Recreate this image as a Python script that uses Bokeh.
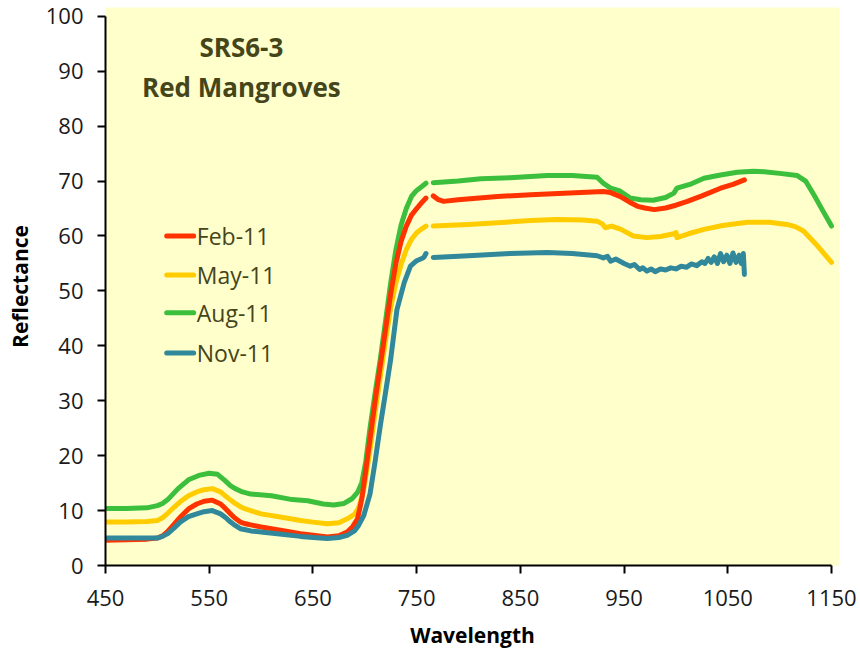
import numpy as np
from bokeh.plotting import figure
from bokeh.models import Range1d, Label, FixedTicker
from bokeh.embed import file_html
from bokeh.resources import INLINE

NaN = float("nan")

# ---- data ----
series_names = ["Feb-11", "May-11", "Aug-11", "Nov-11"]

feb_w = [450, 470, 490, 500, 505, 510, 516, 522, 530, 538, 545, 553, 561, 566, 570, 575, 580, 585, 590, 600, 620,
         638, 650, 664, 675, 683, 688, 693, 697, 700, 705, 710, 715, 720, 725, 730, 735, 740, 745, 750, 755, 759,
         NaN,
         766, 771, 776, 790, 828, 860, 892, 930, 937, 946, 955, 963, 970, 979, 990, 1000, 1011, 1025, 1043,
         1055, 1066]
feb_r = [4.6, 4.7, 4.8, 5.0, 5.4, 6.2, 7.5, 8.8, 10.3, 11.2, 11.7, 11.9, 11.2, 10.3, 9.5, 8.6, 7.9, 7.6, 7.4, 7.0,
         6.4, 5.8, 5.5, 5.2, 5.4, 6.1, 7.0, 8.5, 12.0, 16.0, 23.0, 30.0, 36.5, 43.0, 49.5, 55.0, 59.0, 61.8, 63.8,
         65.0, 66.1, 66.9, NaN,
         67.3, 66.6, 66.3, 66.6, 67.2, 67.5, 67.8, 68.1, 67.9, 67.2, 66.2, 65.4, 65.1, 64.8, 65.1, 65.6, 66.3,
         67.3, 68.7, 69.4, 70.2]

may_w = [450, 470, 490, 500, 505, 510, 516, 522, 530, 538, 545, 553, 561, 566, 570, 575, 580, 585, 590, 600, 620,
         638, 650, 664, 675, 683, 690, 694, 698, 700, 705, 710, 715, 720, 725, 730, 735, 740, 745, 750, 755, 759,
         NaN,
         766, 800, 828, 860, 885, 910, 924, 929, 932, 938, 947, 959, 972, 985, 998, 1000, 1001, 1012, 1027,
         1045, 1069, 1090, 1107, 1115, 1123, 1135, 1150]
may_r = [7.9, 7.9, 8.0, 8.2, 8.7, 9.5, 10.6, 11.6, 12.7, 13.4, 13.8, 14.0, 13.4, 12.6, 12.0, 11.3, 10.7, 10.3, 10.0,
         9.4, 8.8, 8.2, 7.9, 7.6, 7.8, 8.5, 9.3, 10.5, 13.0, 15.0, 21.0, 28.0, 34.5, 41.0, 47.0, 51.5, 54.8, 57.5,
         59.4, 60.6, 61.3, 61.8, NaN,
         61.8, 62.1, 62.4, 62.8, 63.0, 62.9, 62.7, 62.2, 61.5, 61.8, 61.2, 60.0, 59.7, 59.9, 60.4, 60.6, 59.7,
         60.4, 61.2, 61.9, 62.5, 62.5, 62.1, 61.7, 60.9, 58.5, 55.2]

aug_w = [450, 470, 490, 500, 505, 510, 515, 520, 530, 540, 550, 558, 565, 570, 575, 582, 590, 610, 630, 645, 660,
         670, 680, 688, 693, 697, 701, 705, 710, 715, 720, 725, 730, 735, 740, 745, 750, 755, 759, NaN,
         766, 790, 812, 840, 876, 900, 924, 930, 937, 946, 956, 966, 978, 990, 998, 1001, 1015, 1027, 1043,
         1059, 1075, 1085, 1100, 1117, 1125, 1133, 1141, 1150]
aug_r = [10.4, 10.4, 10.5, 10.9, 11.3, 12.0, 13.0, 14.0, 15.6, 16.4, 16.8, 16.6, 15.5, 14.6, 14.0, 13.4, 13.0, 12.7,
         12.0, 11.8, 11.2, 11.0, 11.3, 12.2, 13.3, 15.0, 19.0, 25.0, 31.5, 37.6, 44.5, 51.5, 57.5, 62.0, 65.0,
         67.2, 68.3, 69.0, 69.6, NaN,
         69.7, 70.0, 70.4, 70.6, 71.0, 71.0, 70.7, 69.6, 68.7, 68.2, 66.9, 66.6, 66.5, 67.0, 67.8, 68.7, 69.5,
         70.5, 71.1, 71.6, 71.8, 71.7, 71.4, 71.0, 70.0, 67.5, 64.8, 61.8]

nov_w = [450, 470, 490, 500, 505, 510, 516, 522, 530, 538, 545, 553, 561, 566, 570, 575, 580, 585, 590, 600, 620,
         638, 650, 664, 675, 683, 690, 694, 699, 705, 710, 715, 720, 725, 731, 738, 744, 750, 755, 757, 759, NaN,
         766, 800, 840, 876, 900, 924, 930, 934, 937, 942, 946, 950, 956, 960, 965, 968, 972, 976, 980, 985,
         990, 995, 1000, 1005, 1010, 1015, 1020, 1025, 1028, 1031, 1034, 1037, 1040, 1043, 1046, 1049, 1052,
         1055, 1058, 1061, 1063, 1065, 1066]
nov_r = [5.0, 5.0, 5.0, 5.0, 5.3, 5.8, 6.8, 7.9, 8.9, 9.4, 9.8, 10.0, 9.4, 8.7, 8.0, 7.3, 6.7, 6.5, 6.3, 6.1, 5.7,
         5.3, 5.1, 4.9, 5.1, 5.5, 6.3, 7.3, 9.1, 13.0, 19.0, 25.5, 31.5, 37.6, 46.6, 51.5, 54.5, 55.5, 55.9, 56.1,
         56.8, NaN,
         56.1, 56.4, 56.8, 57.0, 56.8, 56.4, 56.0, 56.3, 55.4, 55.8, 55.4, 55.0, 54.5, 54.8, 53.9, 54.2, 53.6,
         54.0, 53.5, 54.0, 53.8, 54.2, 54.0, 54.5, 54.3, 54.9, 54.6, 55.3, 55.0, 55.9, 55.2, 56.2, 55.0, 56.8,
         55.3, 56.5, 55.0, 56.9, 55.2, 56.5, 55.0, 56.8, 53.0]

x_ticks = [450, 550, 650, 750, 850, 950, 1050, 1150]
y_ticks = [0, 10, 20, 30, 40, 50, 60, 70, 80, 90, 100]

title_lines = ["SRS6-3", "Red Mangroves"]

# ---- styling ----
colors = ["#FF3300", "#FFCC00", "#3CBF3C", "#31889A"]
FONT = "Open Sans"
BG = "#FFFFCC"
OLIVE = "#45451A"

p = figure(width=860, height=651, output_backend="svg", toolbar_location=None,
           x_range=Range1d(450, 1157.7), y_range=Range1d(0, 101.6),
           min_border_left=105, min_border_right=21, min_border_top=7, min_border_bottom=84)
p.background_fill_color = BG
p.border_fill_color = "white"
p.outline_line_color = None
p.grid.visible = False

for ax, ticks in ((p.xaxis[0], x_ticks), (p.yaxis[0], y_ticks)):
    ax.ticker = FixedTicker(ticks=ticks)
    ax.axis_line_color = "black"
    ax.axis_line_width = 2
    ax.major_tick_line_color = "black"
    ax.major_tick_line_width = 2
    ax.major_tick_out = 8
    ax.major_tick_in = 0
    ax.minor_tick_line_color = None
    ax.major_label_text_font = FONT
    ax.major_label_text_font_size = "22px"
    ax.major_label_text_color = "#1a1a1a"
    ax.axis_label_text_font = FONT
    ax.axis_label_text_font_size = "21px"
    ax.axis_label_text_font_style = "bold"
    ax.axis_label_text_color = "black"

p.xaxis.bounds = (450, 1150)
p.yaxis.bounds = (0, 100)
p.xaxis.axis_label = "Wavelength"
p.yaxis.axis_label = "Reflectance"
p.xaxis.major_label_standoff = 16
p.yaxis.major_label_standoff = 14
p.xaxis.axis_label_standoff = 12
p.yaxis.axis_label_standoff = 9

data = [(feb_w, feb_r), (may_w, may_r), (aug_w, aug_r), (nov_w, nov_r)]
draw_order = [2, 1, 0, 3]
for i in draw_order:
    w, r = data[i]
    p.line(np.array(w, dtype=float), np.array(r, dtype=float), line_color=colors[i], line_width=5,
           line_join="round", line_cap="round")

# manual legend (positions in data units of the frame)
leg_x0, leg_x1, leg_tx = 509, 535, 538
leg_rows = [60.0, 52.9, 46.0, 38.7]
for name, col, yy in zip(series_names, colors, leg_rows):
    p.line([leg_x0, leg_x1], [yy, yy], line_color=col, line_width=5, line_cap="round")
    p.add_layout(Label(x=leg_tx, y=yy, text=name, text_font=FONT, text_font_size="23px",
                       text_color=OLIVE, text_baseline="middle", text_align="left"))

for txt, yy in zip(title_lines, [94.4, 87.1]):
    p.add_layout(Label(x=581, y=yy, text=txt, text_font=FONT, text_font_size="26px",
                       text_font_style="bold", text_color=OLIVE, text_align="center",
                       text_baseline="middle"))

open("out.html", "w").write(file_html(p, INLINE))
